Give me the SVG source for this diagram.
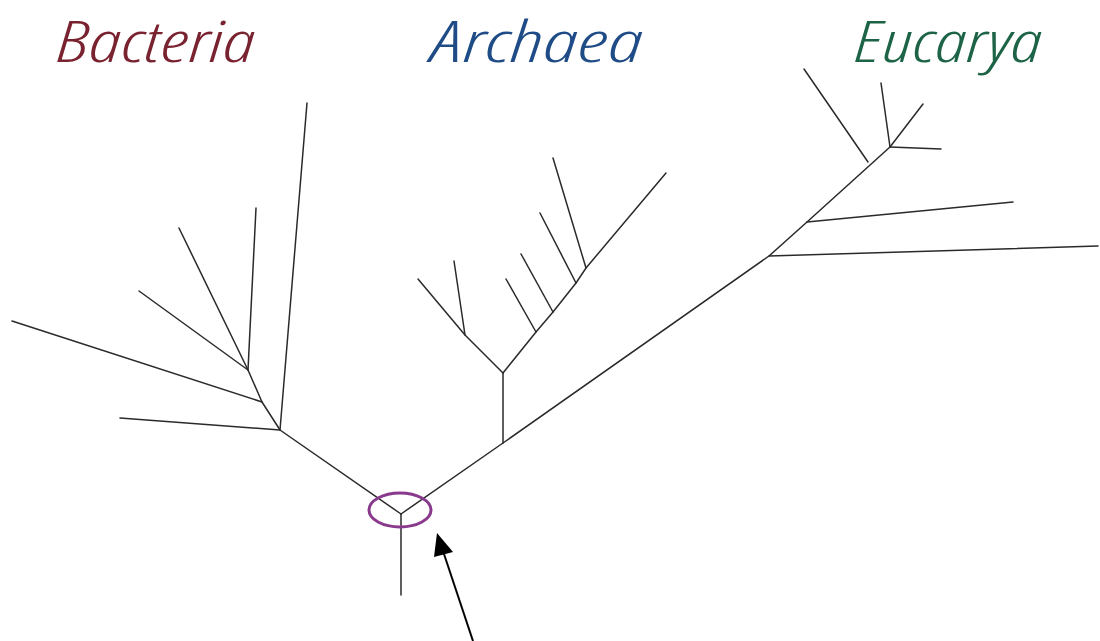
<svg xmlns="http://www.w3.org/2000/svg" width="1100" height="641" viewBox="0 0 1100 641">
  <defs>
    <style>
      .br { fill: none; stroke: #2a2a2a; stroke-width: 1.5; stroke-linecap: round; stroke-linejoin: round; }
      .lbl { font-family: "Open Sans", "Liberation Sans", sans-serif; font-style: italic; font-weight: 300; font-stretch: condensed; font-size: 58px; }
    </style>
  </defs>
  <rect width="1100" height="641" fill="#fff"/>

  <!-- domain labels -->
  <g id="label-bacteria"><text class="lbl" x="57" y="62" fill="#7a2330" textLength="198" lengthAdjust="spacingAndGlyphs">Bacteria</text></g>
  <g id="label-archaea"><text class="lbl" x="432" y="62" fill="#1f4c86" textLength="211" lengthAdjust="spacingAndGlyphs">Archaea</text></g>
  <g id="label-eucarya"><text class="lbl" x="855" y="62" fill="#1d6447" textLength="187" lengthAdjust="spacingAndGlyphs">Eucarya</text></g>

  <!-- tree branches -->
  <g id="connectors">
    <!-- trunk -->
    <path class="br" d="M401,595 L401,514"/>
    <!-- bacteria limb -->
    <path class="br" d="M401,514 L280,430 L262,402 L248,370"/>
    <path class="br" d="M280,430 L120,418"/>
    <path class="br" d="M280,430 L307,103"/>
    <path class="br" d="M262,402 L12,321"/>
    <path class="br" d="M248,370 L139,291"/>
    <path class="br" d="M248,370 L179,228"/>
    <path class="br" d="M248,370 L256,208"/>
    <!-- main right limb -->
    <path class="br" d="M401,514 L503,443 L769,256 L807,222 L890,147"/>
    <!-- archaea -->
    <path class="br" d="M503,443 L503,373"/>
    <path class="br" d="M503,373 L465,335 L418,279"/>
    <path class="br" d="M465,335 L454,261"/>
    <path class="br" d="M503,373 L536,332 L553,312 L576,283 L586,268 L666,173"/>
    <path class="br" d="M536,332 L506,279"/>
    <path class="br" d="M553,312 L521,254"/>
    <path class="br" d="M576,283 L540,213"/>
    <path class="br" d="M586,268 L553,158"/>
    <!-- eucarya -->
    <path class="br" d="M769,256 L1098,246"/>
    <path class="br" d="M807,222 L1013,202"/>
    <path class="br" d="M868,162 L804,69"/>
    <path class="br" d="M890,147 L881,83"/>
    <path class="br" d="M890,147 L923,104"/>
    <path class="br" d="M890,147 L941,149"/>
    <!-- pointer to the root -->
    <path d="M473,641 L443,551" stroke="#000" stroke-width="2" fill="none"/>
    <path d="M437,533 L453,552 L434,557 Z" fill="#000"/>
  </g>

  <!-- root marker -->
  <g id="root-ring">
    <ellipse cx="400" cy="510" rx="31" ry="17" fill="none" stroke="#8a3a8c" stroke-width="3"/>
  </g>
</svg>
